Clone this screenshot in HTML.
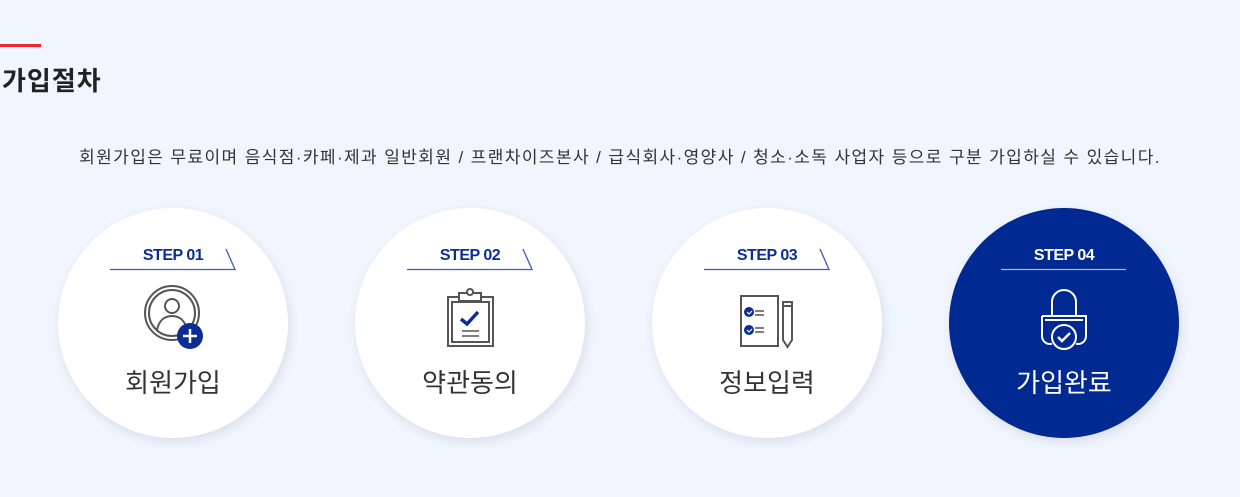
<!DOCTYPE html>
<html><head><meta charset="utf-8"><style>
body{margin:0;width:1240px;height:497px;background:#f1f5fd;overflow:hidden;position:relative;font-family:"Liberation Sans","Noto Sans CJK KR",sans-serif}
.red{position:absolute;left:0;top:44px;width:41px;height:3px;background:#f0262d}
.t{position:absolute;left:2px;top:61px;font-size:26px;font-weight:bold;color:#222;letter-spacing:1px}
.s{position:absolute;left:0;width:1240px;top:143px;text-align:center;font-size:17px;color:#333;letter-spacing:1.4px;white-space:nowrap}
.c{position:absolute;top:208px;width:230px;height:230px;border-radius:50%;background:#fff;box-shadow:2px 4px 10px rgba(80,100,150,.15)}
svg{position:absolute;left:0;top:0}
</style></head><body>
<div class="red"></div>
<div class="t">가입절차</div>
<div class="s">회원가입은 무료이며 음식점·카페·제과 일반회원 / 프랜차이즈본사 / 급식회사·영양사 / 청소·소독 사업자 등으로 구분 가입하실 수 있습니다.</div>
<div class="c" style="left:58px"></div>
<div class="c" style="left:355px"></div>
<div class="c" style="left:652px"></div>
<div class="c" style="left:949px;background:#002992"></div>
<svg width="1240" height="497" font-family="Liberation Sans, Noto Sans CJK KR, sans-serif">
<g font-size="16" text-anchor="middle" fill="#0b2d94" font-weight="bold" letter-spacing="-0.5">
<text x="173" y="260">STEP 01</text><text x="470" y="260">STEP 02</text><text x="767" y="260">STEP 03</text>
<text x="1064" y="260" fill="#fff">STEP 04</text></g>
<g stroke="#3b5cbf" stroke-width="1.3" fill="none">
<path d="M110 269.5H235L226 249"/><path d="M407 269.5H532L523 249"/><path d="M704 269.5H829L820 249"/></g>
<path d="M1001 269.5H1126" stroke="#a9b8e6" stroke-width="1.3"/>
<g font-size="26" text-anchor="middle" fill="#333">
<text x="173" y="392">회원가입</text><text x="470" y="392">약관동의</text><text x="767" y="392">정보입력</text>
<text x="1064" y="392" fill="#fff">가입완료</text></g>
<!-- icon1 -->
<g stroke="#555" stroke-width="2" fill="none">
<circle cx="172" cy="313" r="27"/><circle cx="172" cy="313" r="23"/>
<circle cx="172" cy="306" r="7"/><path d="M157 330c2-10 8-14 15-14s13 4 15 14"/></g>
<circle cx="190" cy="336" r="13" fill="#0b2d94"/>
<path d="M190 329v14M183 336h14" stroke="#fff" stroke-width="2.5"/>
<!-- icon2 -->
<g stroke="#555" stroke-width="2" fill="none">
<rect x="448" y="297" width="45" height="49"/><rect x="452" y="302" width="37" height="40"/>
<rect x="459" y="293" width="22" height="8" fill="#fff"/><circle cx="470" cy="292" r="3" fill="#fff"/>
<path d="M462 331h17M462 336h17" stroke-width="1.5"/></g>
<path d="M461 319l6 5 11-12" stroke="#0b2d94" stroke-width="3.5" fill="none"/>
<!-- icon3 -->
<g stroke="#555" stroke-width="2" fill="none">
<rect x="741" y="296" width="37" height="50"/>
<path d="M755 311h9M755 315h9M755 328h9M755 332h9" stroke-width="1.5"/>
<path d="M783 302h9v38l-4.5 7-4.5-7z M783 306h9"/></g>
<circle cx="749" cy="312" r="5" fill="#0b2d94"/><circle cx="749" cy="330" r="5" fill="#0b2d94"/>
<path d="M747 312l2 2 3-3M747 330l2 2 3-3" stroke="#fff" stroke-width="1.2" fill="none"/>
<!-- icon4 -->
<g stroke="#fff" stroke-width="2" fill="none">
<path d="M1052 316v-14a12 12 0 0 1 24 0v14"/>
<path d="M1042 316h44v20a8 8 0 0 1-8 8h-2M1052 344h-2a8 8 0 0 1-8-8v-20M1045 320h38"/>
<circle cx="1064" cy="337" r="12" fill="#002992"/>
<path d="M1058 337l4 4 8-8" stroke-width="2.5"/></g>
</svg>
</body></html>
